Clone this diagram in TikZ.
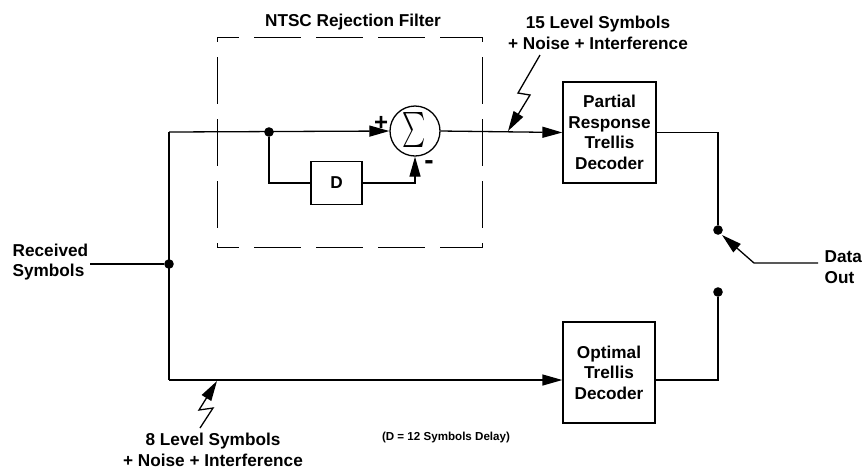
\documentclass[tikz,border=0pt]{standalone}
\usepackage{fontspec}
\setmainfont{Liberation Sans}
\usepackage{graphicx}
\usetikzlibrary{arrows.meta}
\begin{document}
\begin{tikzpicture}[x=0.5pt,y=-0.5pt,
  line width=0.65pt,
  every node/.style={font=\fontsize{8.6}{10.3}\selectfont\bfseries},
  blk/.style={draw, minimum width=46.5pt, minimum height=50.5pt, align=center, inner sep=0pt},
  arr/.style={-{Triangle[length=10pt,width=5.5pt]}},
  dotc/.style={circle, fill, inner sep=0pt, minimum size=4.8pt},
  lbl/.style={align=center, inner sep=0pt},
  lbll/.style={align=left, anchor=west, inner sep=0pt},
  sgn/.style={inner sep=0pt, font=\fontsize{12}{12}\selectfont\bfseries},
  hdash/.style={dash pattern=on 23.5pt off 7.5pt, dash phase=12.5pt},
  vdash/.style={dash pattern=on 23.5pt off 7.5pt, dash phase=21pt}]
\useasboundingbox (0,0) rectangle (865,468);
% dashed filter box
\node[minimum width=132pt, minimum height=104.5pt, inner sep=0pt] (filt) at (350,142.5) {};
\draw[hdash] (filt.north west) -- (filt.north east);
\draw[hdash] (filt.south west) -- (filt.south east);
\draw[vdash] (filt.north west) -- (filt.south west);
\draw[vdash] (filt.north east) -- (filt.south east);
\node[lbl] (ttl) at (353,22) {NTSC Rejection Filter};
% blocks
\node[blk] (prt) at (609.5,132.5) {Partial\\Response\\Trellis\\Decoder};
\node[blk, minimum width=46pt] (opt) at (609,372.5) {Optimal\\Trellis\\Decoder};
\node[draw, minimum width=25.5pt, minimum height=21.5pt, inner sep=0pt] (dly) at (336.5,183) {D};
\node[draw, circle, minimum size=25pt, inner sep=0pt] (sum) at (415,131) {};
\node[inner sep=0pt] (sig) at (414,130) {\scalebox{1.1}[1.75]{$\sum$}};
\node[sgn] (pl) at (381,123) {+};
\node[sgn, font=\fontsize{14}{14}\selectfont\bfseries] (mn) at (429,165) {-};
% junction dots
\node[dotc] (j1) at (169,264) {};
\node[dotc] (j2) at (269,132) {};
\node[dotc] (s1) at (718,230) {};
\node[dotc] (s2) at (718,292) {};
% coordinates
\coordinate (rsl) at (90,264);
\coordinate (tl) at (169,132);
\coordinate (bl) at (169,380);
\coordinate (dout) at (818,263);
\coordinate (dk) at (754,263);
\coordinate (dtip) at (722,235);
% connectors
\draw (rsl) -- (j1);
\draw (tl) -- (bl);
\draw[arr] (tl) -- (sum.west);
\draw (j2) |- (dly.west);
\draw[arr] (dly.east) -| (sum.south);
\draw[arr] (sum.east) -- (prt.west);
\draw (prt.east) -| (s1);
\draw[arr] (bl) -- (opt.west |- bl);
\draw (opt.east |- bl) -| (s2);
\draw[arr] (dout) -- (dk) -- (dtip);
% lightning arrows
\coordinate (za) at (540,55);
\coordinate (zb) at (518,93);
\coordinate (zc) at (530,95);
\coordinate (zd) at (508,131);
\draw[arr] (za) -- (zb) -- (zc) -- (zd);
\coordinate (ya) at (200,428);
\coordinate (yb) at (213,408);
\coordinate (yc) at (199,410);
\coordinate (yd) at (217,381);
\draw[arr] (ya) -- (yb) -- (yc) -- (yd);
% labels
\node[lbl] (l15) at (598,33) {15 Level Symbols\\+ Noise + Interference};
\node[lbl] (l8) at (213,450) {8 Level Symbols\\+ Noise + Interference};
\node[lbll] (rcv) at (12,262) {Received\\Symbols};
\node[lbll] (dat) at (824,267) {Data\\Out};
\node[lbl, font=\fontsize{5.8}{7}\selectfont\bfseries] (dnote) at (446,437) {(D = 12 Symbols Delay)};
\end{tikzpicture}
\end{document}
